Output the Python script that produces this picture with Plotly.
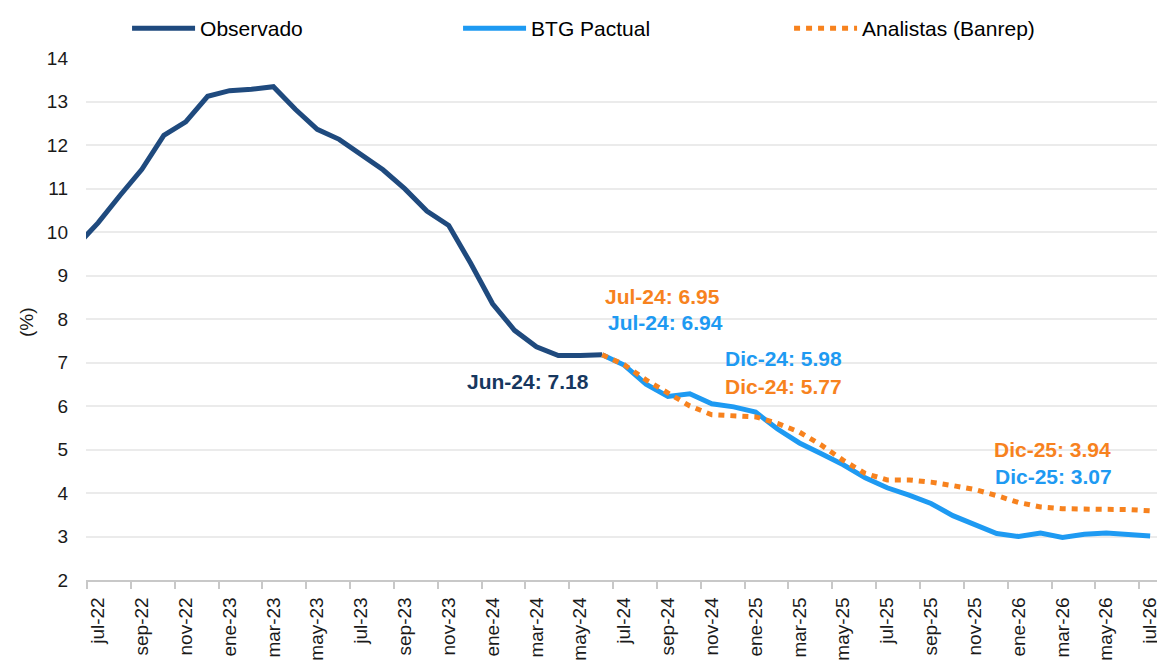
import plotly.graph_objects as go

# Months: jun-22 (index -1, clipped) to jul-26 (index 48)
idx = list(range(-1, 49))

# Observado: jun-22 .. jun-24
observado = [9.67, 10.21, 10.84, 11.44, 12.22, 12.53, 13.12, 13.25, 13.28, 13.34,
             12.82, 12.36, 12.13, 11.78, 11.43, 10.99, 10.48, 10.15, 9.28, 8.35,
             7.74, 7.36, 7.16, 7.16, 7.18]
# BTG Pactual: jun-24 .. jul-26
btg = [7.18, 6.94, 6.50, 6.22, 6.28, 6.05, 5.98, 5.86, 5.47, 5.15, 4.90, 4.65, 4.35,
       4.12, 3.95, 3.76, 3.48, 3.28, 3.07, 3.00, 3.08, 2.98, 3.05, 3.08, 3.05, 3.01]
# Analistas (Banrep): jun-24 .. jul-26
analistas = [7.18, 6.95, 6.60, 6.30, 6.00, 5.80, 5.77, 5.75, 5.60, 5.40, 5.10, 4.75, 4.45,
             4.30, 4.30, 4.25, 4.17, 4.08, 3.94, 3.78, 3.68, 3.64, 3.63, 3.63, 3.62, 3.59]

tick_labels = ["jul-22", "sep-22", "nov-22", "ene-23", "mar-23", "may-23", "jul-23", "sep-23",
               "nov-23", "ene-24", "mar-24", "may-24", "jul-24", "sep-24", "nov-24", "ene-25",
               "mar-25", "may-25", "jul-25", "sep-25", "nov-25", "ene-26", "mar-26", "may-26", "jul-26"]
tick_positions = list(range(0, 49, 2))
boundary_ticks = [p - 0.5 for p in tick_positions] + [48.5]

NAVY = "#1F4A7E"
BLUE = "#1E9AF2"
ORANGE = "#F7821E"
FONT = "Liberation Sans, Arial, sans-serif"

x_obs = idx[:len(observado)]
x_fc = idx[len(observado) - 1:]

fig = go.Figure()
fig.add_trace(go.Scatter(x=x_obs, y=observado, mode="lines", name="Observado",
                         line=dict(color=NAVY, width=5)))
fig.add_trace(go.Scatter(x=x_fc, y=btg, mode="lines", name="BTG Pactual",
                         line=dict(color=BLUE, width=5)))
fig.add_trace(go.Scatter(x=x_fc, y=analistas, mode="lines", name="Analistas (Banrep)",
                         line=dict(color=ORANGE, width=5, dash="6px,6px")))

annots = [
    ("Jun-24: 7.18", 19.61, 6.57, "#17375E"),
    ("Jul-24: 6.95", 25.77, 8.51, ORANGE),
    ("Jul-24: 6.94", 25.91, 7.91, BLUE),
    ("Dic-24: 5.98", 31.29, 7.10, BLUE),
    ("Dic-24: 5.77", 31.29, 6.44, ORANGE),
    ("Dic-25: 3.94", 43.56, 4.99, ORANGE),
    ("Dic-25: 3.07", 43.61, 4.39, BLUE),
]
for text, ax_, ay_, col in annots:
    fig.add_annotation(x=ax_, y=ay_, xref="x", yref="y", text=f"<b>{text}</b>",
                       showarrow=False, font=dict(family=FONT, size=21, color=col),
                       xanchor="center", yanchor="middle")

fig.add_annotation(x=-0.056, y=0.494, xref="paper", yref="paper", text="(%)",
                   showarrow=False, textangle=-90, font=dict(family=FONT, size=19, color="#1a1a1a"),
                   xanchor="center", yanchor="middle")

fig.update_layout(
    width=1157, height=659,
    margin=dict(l=78, r=5, t=50, b=87, autoexpand=False),
    paper_bgcolor="white", plot_bgcolor="white",
    font=dict(family=FONT, size=19, color="#1a1a1a"),
    showlegend=True,
    legend=dict(orientation="h", xref="container", yref="container",
                x=0.1029, y=1.0, xanchor="left", yanchor="top",
                entrywidth=253, entrywidthmode="pixels", itemwidth=63,
                font=dict(family=FONT, size=21, color="#000000"),
                bgcolor="rgba(0,0,0,0)", itemclick=False),
    xaxis=dict(range=[-0.55, 48.45], tickmode="array", tickvals=tick_positions,
               ticktext=tick_labels, tickangle=-90, ticks="", showgrid=False,
               zeroline=False, showline=True, linecolor="#C8C8C8", linewidth=1.5,
               ticklabelstandoff=8, automargin=False,
               minor=dict(tickmode="array", tickvals=boundary_ticks, ticks="outside",
                          ticklen=7, tickcolor="#C8C8C8", tickwidth=1.5, showgrid=False),
               tickfont=dict(family=FONT, size=19, color="#1a1a1a")),
    yaxis=dict(range=[2, 14], tickmode="array", tickvals=list(range(2, 15)),
               showgrid=True, gridcolor="#EBEBEB", gridwidth=1.5, zeroline=False,
               showline=False, ticks="", ticklabelstandoff=17, automargin=False,
               tickfont=dict(family=FONT, size=19, color="#1a1a1a")),
)

fig.write_html("out.html")
